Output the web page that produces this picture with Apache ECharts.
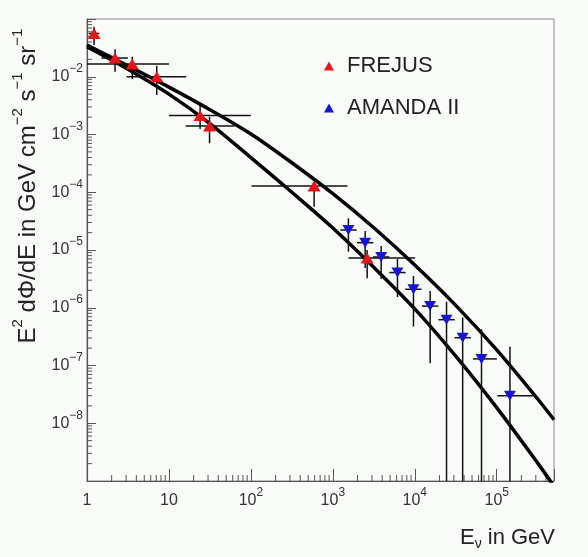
<!DOCTYPE html>
<html>
<head>
<meta charset="utf-8">
<script src="https://cdn.jsdelivr.net/npm/echarts@6/dist/echarts.min.js"></script>
<style>
  html, body { margin: 0; padding: 0; background: #f9fbf8; }
  #chart { width: 588px; height: 557px; }
</style>
</head>
<body>
<div id="chart"></div>
<script>
// FREJUS points: energy (GeV), flux, x error range, y error range
var frejusE   = [1.22, 2.2, 3.57, 7.1, 24, 31.3, 591, 2624];
var frejusF   = [0.0561, 0.0211, 0.0166, 0.0100, 0.00213, 0.00140, 1.28e-4, 7.26e-6];
var frejusElo = [1.05, 1.5, 1.0, 3.04, 10, 16, 102, 1550];
var frejusEhi = [1.42, 3.16, 10, 16.2, 100, 62.9, 1507, 10100];
var frejusFlo = [0.0355, 0.0122, 0.00914, 0.00483, 0.00125, 0.000705, 5.6e-5, 3.24e-6];
var frejusFhi = [0.0736, 0.030, 0.0222, 0.0155, 0.0032, 0.00203, 1.5e-4, 1.0e-5];

// AMANDA II points (lower error 0 = runs off the bottom of the plot)
var amandaE   = [1550, 2480, 3890, 6150, 9640, 15400, 24400, 38400, 65200, 145000];
var amandaF   = [2.22e-5, 1.34e-5, 7.57e-6, 4.07e-6, 2.09e-6, 1.07e-6, 6.21e-7, 3.03e-7, 1.30e-7, 3.0e-8];
var amandaElo = [1230, 1970, 3090, 4890, 7660, 12200, 19400, 30500, 51200, 102000];
var amandaEhi = [1950, 3120, 4900, 7740, 12100, 19400, 30700, 48300, 100400, 310000];
var amandaFlo = [9.35e-6, 4.88e-6, 3.15e-6, 1.53e-6, 4.73e-7, 1.09e-7, 0, 0, 0, 0];
var amandaFhi = [3.54e-5, 2.13e-5, 1.17e-5, 6.98e-6, 3.55e-6, 1.95e-6, 1.27e-6, 6.78e-7, 4.23e-7, 2.11e-7];

// the two band curves
var curveE = [1, 3.16, 10, 31.6, 100, 316, 1000, 3162, 10000, 31623, 100000, 316228, 500000];
var upperF = [0.0355, 0.0155, 6.61e-3, 2.69e-3, 1.02e-3, 3.24e-4, 9.44e-5, 2.43e-5, 5.50e-6, 1.10e-6, 1.86e-7, 2.63e-8, 1.15e-8];
var lowerF = [0.0331, 0.0135, 5.01e-3, 1.55e-3, 3.98e-4, 1.0e-4, 2.40e-5, 5.01e-6, 9.55e-7, 1.45e-7, 1.86e-8, 2.04e-9, 8.1e-10];

// axis ranges and labelled decades
var xMin = 1, xMax = 5e5;
var yMin = 1e-9, yMax = 0.1;
var yLabelExp = [-8, -7, -6, -5, -4, -3, -2];

var FONT = 'Liberation Sans, Arial, sans-serif';
var AXIS_COLOR = '#555';

function zip(a, b) {
    return a.map(function (v, i) { return [v, b[i]]; });
}
function errData(e, f, elo, ehi, flo, fhi) {
    return e.map(function (v, i) { return [v, f[i], elo[i], ehi[i], flo[i], fhi[i]]; });
}

// minor log ticks (2..9 in every decade)
var xMinor = [], yMinor = [];
for (var k = 0; k <= 5; k++) {
    for (var m = 2; m <= 9; m++) {
        if (m * Math.pow(10, k) < xMax) xMinor.push([m * Math.pow(10, k), yMin]);
    }
}
for (var k2 = -9; k2 <= -2; k2++) {
    for (var m2 = 2; m2 <= 9; m2++) {
        yMinor.push([xMin, m2 * Math.pow(10, k2)]);
    }
}

function renderErr(params, api) {
    var cs = params.coordSys;
    var bottom = cs.y + cs.height;
    var x = api.value(0), y = api.value(1);
    var c = api.coord([x, y]);
    var l = api.coord([api.value(2), y]);
    var r = api.coord([api.value(3), y]);
    var t = api.coord([x, api.value(5)]);
    var lo = api.value(4);
    var b = lo > 0 ? Math.min(api.coord([x, lo])[1], bottom) : bottom;
    var st = { stroke: '#111', lineWidth: 1.5 };
    return {
        type: 'group',
        children: [
            { type: 'line', shape: { x1: l[0], y1: c[1], x2: r[0], y2: c[1] }, style: st },
            { type: 'line', shape: { x1: c[0], y1: t[1], x2: c[0], y2: b }, style: st }
        ]
    };
}

var chart = echarts.init(document.getElementById('chart'));
var option = {
    backgroundColor: '#f9fbf8',
    animation: false,
    grid: {
        left: 87, right: 34, top: 19, bottom: 76,
        show: true, borderColor: '#888', borderWidth: 1
    },
    legend: {
        data: ['FREJUS', 'AMANDA II'],
        orient: 'vertical',
        left: 319, top: 50,
        itemWidth: 10, itemHeight: 9, itemGap: 20,
        textStyle: { fontSize: 22, color: '#222', fontFamily: FONT, padding: [0, 0, 0, 8] }
    },
    xAxis: {
        type: 'log', logBase: 10, min: xMin, max: xMax, splitNumber: 6,
        axisLine: { lineStyle: { color: AXIS_COLOR, width: 1.2 } },
        axisTick: { inside: true, length: 12, lineStyle: { color: AXIS_COLOR } },
        splitLine: { show: false },
        axisLabel: {
            margin: 6, fontSize: 16, lineHeight: 28, color: '#333', fontFamily: FONT,
            formatter: function (v) {
                var e = Math.log10(v), r = Math.round(e);
                if (Math.abs(e - r) > 1e-6) return '';
                if (r === 0) return '1';
                if (r === 1) return '10';
                return '10{sup|' + r + '}';
            },
            rich: { sup: { fontSize: 12, lineHeight: 12, verticalAlign: 'top', color: '#333', fontFamily: FONT } }
        }
    },
    yAxis: {
        type: 'log', logBase: 10, min: yMin, max: yMax, splitNumber: 8,
        axisLine: { lineStyle: { color: AXIS_COLOR, width: 1.2 } },
        axisTick: { inside: true, length: 9, lineStyle: { color: AXIS_COLOR } },
        splitLine: { show: false },
        axisLabel: {
            margin: 4, fontSize: 16, lineHeight: 28, color: '#333', fontFamily: FONT,
            formatter: function (v) {
                var r = Math.round(Math.log10(v));
                if (yLabelExp.indexOf(r) < 0) return '';
                return '10{sup|\u2212' + (-r) + '}';
            },
            rich: { sup: { fontSize: 12, lineHeight: 12, verticalAlign: 'top', color: '#333', fontFamily: FONT } }
        }
    },
    graphic: [
        {
            type: 'text', x: 28, y: 186, rotation: Math.PI / 2,
            style: {
                text: 'E{sup|2} d\u03A6/dE in GeV cm{sup|\u22122} s{sup|\u22121} sr{sup|\u22121}',
                fontSize: 24, fontFamily: FONT, fill: '#222', lineHeight: 36,
                align: 'center', verticalAlign: 'middle',
                rich: { sup: { fontSize: 15, lineHeight: 18, verticalAlign: 'top', fill: '#222', fontFamily: FONT } }
            }
        },
        {
            type: 'text', x: 555, y: 538,
            style: {
                text: 'E{sub|\u03BD} in GeV',
                fontSize: 22, fontFamily: FONT, fill: '#222', lineHeight: 26,
                align: 'right', verticalAlign: 'middle',
                rich: { sub: { fontSize: 14, lineHeight: 14, verticalAlign: 'bottom', fill: '#222', fontFamily: FONT } }
            }
        }
    ],
    series: [
        {//minor ticks on x
            name: 'xMinor', type: 'custom', silent: true, z: 1,
            data: xMinor,
            renderItem: function (params, api) {
                var p = api.coord([api.value(0), api.value(1)]);
                return { type: 'line', shape: { x1: p[0], y1: p[1], x2: p[0], y2: p[1] - 6 }, style: { stroke: AXIS_COLOR, lineWidth: 1 } };
            }
        },
        {//minor ticks on y
            name: 'yMinor', type: 'custom', silent: true, z: 1,
            data: yMinor,
            renderItem: function (params, api) {
                var p = api.coord([api.value(0), api.value(1)]);
                return { type: 'line', shape: { x1: p[0], y1: p[1], x2: p[0] + 5, y2: p[1] }, style: { stroke: AXIS_COLOR, lineWidth: 1 } };
            }
        },
        {
            name: 'upper', type: 'line', data: zip(curveE, upperF), z: 2,
            smooth: 0.3, showSymbol: false, clip: true,
            lineStyle: { color: '#000', width: 3.5 }
        },
        {
            name: 'lower', type: 'line', data: zip(curveE, lowerF), z: 2,
            smooth: 0.3, showSymbol: false, clip: true,
            lineStyle: { color: '#000', width: 3.5 }
        },
        {
            name: 'frejusErr', type: 'custom', z: 3,
            data: errData(frejusE, frejusF, frejusElo, frejusEhi, frejusFlo, frejusFhi),
            encode: { x: 0, y: 1 },
            renderItem: renderErr
        },
        {
            name: 'amandaErr', type: 'custom', z: 3,
            data: errData(amandaE, amandaF, amandaElo, amandaEhi, amandaFlo, amandaFhi),
            encode: { x: 0, y: 1 },
            renderItem: renderErr
        },
        {
            name: 'FREJUS', type: 'scatter', z: 4,
            data: zip(frejusE, frejusF),
            symbol: 'triangle', symbolSize: [13, 11],
            itemStyle: { color: '#e8141a', opacity: 1 }
        },
        {
            name: 'AMANDA II', type: 'scatter', z: 4,
            data: zip(amandaE, amandaF),
            symbol: 'triangle', symbolSize: [12, 10], symbolRotate: 180,
            itemStyle: { color: '#1414d6', opacity: 1 }
        }
    ]
};
chart.setOption(option);
</script>
</body>
</html>
